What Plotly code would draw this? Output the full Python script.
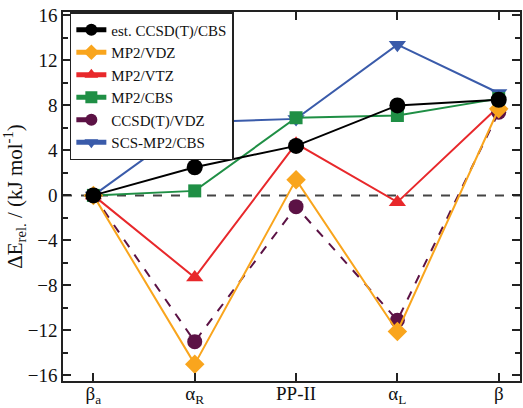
import plotly.graph_objects as go

categories = ["β<sub>a</sub>", "α<sub>R</sub>", "PP-II", "α<sub>L</sub>", "β"]
x_pos = [0, 1, 2, 3, 4]

est_ccsdt_cbs = [0.0, 2.5, 4.4, 8.0, 8.5]
mp2_vdz = [0.0, -15.0, 1.4, -12.1, 7.7]
mp2_vtz = [0.0, -7.3, 4.6, -0.6, 7.9]
mp2_cbs = [0.0, 0.4, 6.9, 7.1, 8.6]
ccsdt_vdz = [0.0, -13.0, -1.0, -11.1, 7.4]
scs_mp2_cbs = [0.0, 6.5, 6.8, 13.4, 9.1]

series = [
    ("SCS-MP2/CBS", scs_mp2_cbs, "#3A5BAA", "triangle-down", "solid", 15),
    ("MP2/CBS", mp2_cbs, "#1F8F45", "square", "solid", 13),
    ("MP2/VTZ", mp2_vtz, "#E8282B", "triangle-up", "solid", 15),
    ("CCSD(T)/VDZ", ccsdt_vdz, "#5C1245", "circle", "dash", 15),
    ("MP2/VDZ", mp2_vdz, "#F9A51D", "diamond", "solid", 15),
    ("est. CCSD(T)/CBS", est_ccsdt_cbs, "#000000", "circle", "solid", 16),
]
legend_order = ["est. CCSD(T)/CBS", "MP2/VDZ", "MP2/VTZ", "MP2/CBS", "CCSD(T)/VDZ", "SCS-MP2/CBS"]

fig = go.Figure()
fig.add_shape(type="line", xref="paper", yref="y", x0=0, x1=1, y0=0, y1=0,
              line=dict(color="#444444", width=2, dash="dash"), layer="below")
for name, vals, col, sym, dash, size in series:
    fig.add_trace(go.Scatter(
        x=x_pos, y=vals, name=name, mode="lines+markers",
        line=dict(color=col, width=2, dash=dash),
        marker=dict(color=col, symbol=sym, size=size),
        legendrank=legend_order.index(name),
    ))

font_family = "Times New Roman, Liberation Serif, DejaVu Serif, serif"
fig.update_layout(
    width=523, height=408,
    margin=dict(l=63, r=3, t=12, b=27),
    paper_bgcolor="white", plot_bgcolor="white",
    font=dict(family=font_family, size=18, color="#111111"),
    showlegend=True,
    legend=dict(x=0.015, y=1.0, xanchor="left", yanchor="top",
                bordercolor="#222222", borderwidth=1.5, bgcolor="white",
                font=dict(family=font_family, size=15, color="#111111"),
                tracegroupgap=0, itemwidth=30, itemsizing="constant"),
    xaxis=dict(range=[-0.3, 4.21], tickvals=x_pos, ticktext=categories,
               ticks="inside", ticklen=8, tickwidth=1.5, tickcolor="#222222",
               showline=True, linecolor="#222222", linewidth=1.5, mirror="ticks",
               showgrid=False, zeroline=False, automargin=False,
               ticklabelstandoff=-6,
               tickfont=dict(family=font_family, size=19)),
    yaxis=dict(range=[-16.5, 16.3], tickvals=[-16, -12, -8, -4, 0, 4, 8, 12, 16],
               ticks="inside", ticklen=8, tickwidth=1.5, tickcolor="#222222",
               showline=True, linecolor="#222222", linewidth=1.5, mirror="ticks",
               showgrid=False, zeroline=False, automargin=False,
               minor=dict(dtick=2, tick0=0, ticks="inside", ticklen=5, tickcolor="#222222", tickwidth=1.5),
               tickfont=dict(family=font_family, size=19),
               title=dict(text="ΔE<sub>rel.</sub> / (kJ mol<sup>-1</sup>)", standoff=4,
                          font=dict(family=font_family, size=21))),
)

fig.write_html("out.html")
